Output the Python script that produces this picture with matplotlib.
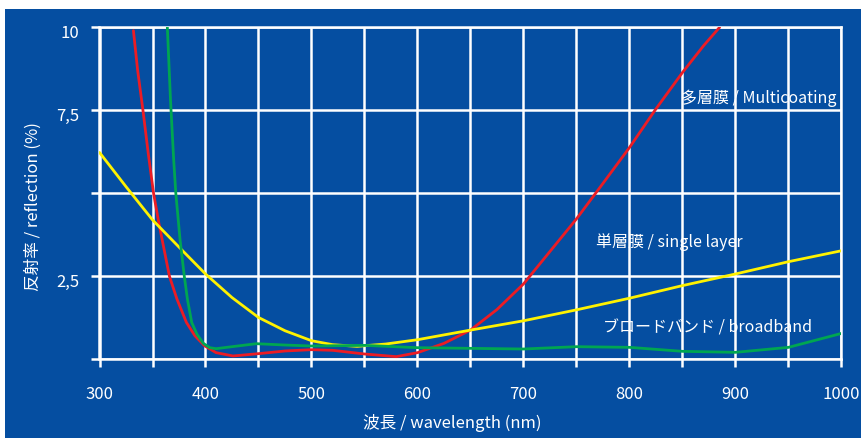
"""Curvas de reflexion: multicoating, single layer, broadband."""
import matplotlib
matplotlib.use("Agg")
import matplotlib.pyplot as plt
import matplotlib.transforms as mtransforms
from matplotlib.patches import Rectangle
import numpy as np

plt.rcParams["font.family"] = ["Noto Sans CJK JP", "DejaVu Sans"]

# datos (nm, %)
multi_nm = [332, 336, 341, 346, 351, 356, 361, 366, 373, 382, 390, 399, 410, 426,
            450, 475, 500, 520, 550, 580, 600, 625, 650, 675, 700, 725, 750, 775,
            800, 824, 850, 870, 885]
multi_pct = [9.9, 8.7, 7.5, 6.2, 5.0, 4.1, 3.3, 2.5, 1.82, 1.11, 0.71, 0.41, 0.2, 0.1,
             0.17, 0.25, 0.29, 0.27, 0.16, 0.08, 0.2, 0.48, 0.88, 1.5, 2.27, 3.25, 4.23, 5.3,
             6.38, 7.5, 8.64, 9.45, 10.0]

single_nm = [300, 325, 350, 375, 400, 425, 450, 475, 500, 520, 543, 570, 600,
             650, 700, 750, 800, 850, 900, 950, 1000]
single_pct = [6.23, 5.2, 4.2, 3.38, 2.57, 1.86, 1.26, 0.86, 0.56, 0.44, 0.39, 0.46, 0.59,
              0.88, 1.16, 1.49, 1.84, 2.22, 2.57, 2.94, 3.27]

broad_nm = [364, 367, 370, 372, 376, 380, 383, 387, 392, 398, 404, 410, 425, 448,
            475, 500, 550, 600, 650, 700, 750, 800, 850, 900, 950, 1000]
broad_pct = [10.0, 7.8, 6.0, 5.0, 3.6, 2.5, 1.8, 1.11, 0.75, 0.48, 0.35, 0.32, 0.38, 0.47,
             0.43, 0.4, 0.42, 0.35, 0.33, 0.31, 0.38, 0.36, 0.24, 0.21, 0.36, 0.78]

x_ticks = np.arange(300, 1001, 50)
x_labels = [str(v) if v % 100 == 0 else "" for v in x_ticks]
y_ticks = [0, 2.5, 5, 7.5, 10]
y_labels = ["", "2,5", "", "7,5", "10"]

BLUE = "#054ea1"
W = 862
H = 439

fig = plt.figure(figsize=(W / 100, H / 100), dpi=100)
fig.patch.set_facecolor("white")
fig.patches.append(Rectangle((5 / W, 0), 1 - 5 / W, 1 - 10 / H,
                             transform=fig.transFigure, facecolor=BLUE,
                             edgecolor="none", zorder=-10))

ax = fig.add_axes([99.5 / W, (H - 360.3) / H, 742 / W, 332 / H])
ax.set_facecolor(BLUE)

ax.plot(multi_nm, multi_pct, color="#ec1c24", lw=2.0, zorder=3, solid_capstyle="round")
ax.plot(single_nm, single_pct, color="#fff200", lw=2.0, zorder=3, solid_capstyle="round")
ax.plot(broad_nm, broad_pct, color="#00a651", lw=2.0, zorder=3, solid_capstyle="round")

ax.set_xlim(300, 1000)
ax.set_ylim(0, 10)
ax.set_xticks(x_ticks)
ax.set_xticklabels(x_labels)
ax.set_yticks(y_ticks)
ax.set_yticklabels(y_labels)
ax.grid(color="white", lw=1.8, zorder=1)
ax.set_axisbelow(True)
for sp in ax.spines.values():
    sp.set_color("white")
    sp.set_linewidth(1.8)
ax.tick_params(direction="out", length=5.5, width=1.8, color="white",
               labelcolor="white", labelsize=12)
ax.tick_params(axis="x", pad=13)
ax.tick_params(axis="y", pad=9)
offset = mtransforms.ScaledTranslation(0, -3 / 100, fig.dpi_scale_trans)
for lbl in ax.get_yticklabels():
    lbl.set_transform(lbl.get_transform() + offset)

ax.text(995, 7.9, "多層膜 / Multicoating", color="white", fontsize=11.5,
        ha="right", va="center", zorder=4)
ax.text(768, 3.57, "単層膜 / single layer", color="white", fontsize=11.5,
        ha="left", va="center", zorder=4)
ax.text(775, 0.97, "ブロードバンド / broadband", color="white", fontsize=11.5,
        ha="left", va="center", zorder=4)

fig.text(452.5 / W, 1 - 422.7 / H, "波長 / wavelength (nm)", color="white",
         fontsize=12, ha="center", va="center")
fig.text(33 / W, 1 - 207 / H, "反射率 / reflection (%)", color="white",
         fontsize=12, ha="center", va="center", rotation=90)

fig.savefig("out.png", dpi=100, facecolor=fig.get_facecolor())
plt.close(fig)
